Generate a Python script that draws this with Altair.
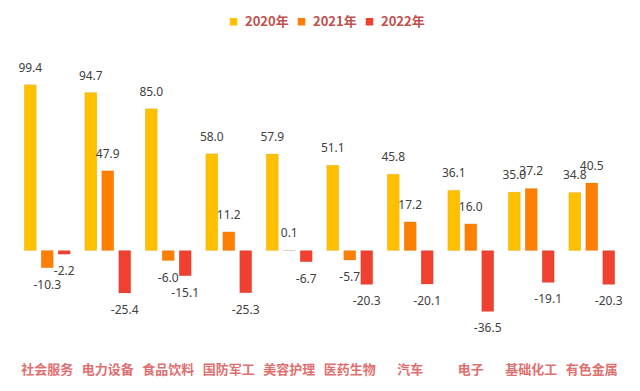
import altair as alt
import pandas as pd

categories = ["社会服务", "电力设备", "食品饮料", "国防军工", "美容护理",
              "医药生物", "汽车", "电子", "基础化工", "有色金属"]
series = ["2020年", "2021年", "2022年"]
v2020 = [99.4, 94.7, 85.0, 58.0, 57.9, 51.1, 45.8, 36.1, 35.0, 34.8]
v2021 = [-10.3, 47.9, -6.0, 11.2, 0.1, -5.7, 17.2, 16.0, 37.2, 40.5]
v2022 = [-2.2, -25.4, -15.1, -25.3, -6.7, -20.3, -20.1, -36.5, -19.1, -20.3]
colors = ["#FFC000", "#FF8000", "#F04030"]

rows = []
for i, c in enumerate(categories):
    for s, vals in zip(series, [v2020, v2021, v2022]):
        rows.append({"cat": c, "series": s, "value": vals[i],
                     "label": f"{vals[i]:.1f}"})
df = pd.DataFrame(rows)

x = alt.X("cat:N", sort=categories, title=None,
          scale=alt.Scale(paddingInner=0.24, paddingOuter=0.12),
          axis=alt.Axis(labelAngle=0, ticks=False, domain=False, labelPadding=29,
                        labelFont="Noto Sans CJK SC", labelFontSize=13,
                        labelFontWeight="bold", labelColor="#E07070"))
xo = alt.XOffset("series:N", sort=series,
                 scale=alt.Scale(paddingInner=0.29, paddingOuter=0))
y = alt.Y("value:Q", title=None, scale=alt.Scale(domain=[-50, 110], nice=False),
          axis=None)

base = alt.Chart(df)

bars = base.mark_bar(stroke="#00000022", strokeWidth=0.5).encode(
    x=x, xOffset=xo, y=y, y2=alt.datum(0),
    color=alt.Color("series:N", sort=series,
                    scale=alt.Scale(domain=series, range=colors),
                    legend=alt.Legend(title=None, orient="none", direction="horizontal",
                                      legendX=210, legendY=-52, symbolType="square",
                                      symbolSize=56, labelFontSize=13, labelOffset=5,
                                      labelFontWeight="bold", labelColor="#C0504D",
                                      labelFont="Noto Sans CJK SC", columnPadding=6,
                                      symbolStrokeWidth=0)),
)

txt_style = dict(fontSize=12, color="#404040", font="Noto Sans", baseline="middle")
pos = base.transform_filter("datum.value >= 0").mark_text(dy=-17, **txt_style).encode(
    x=x, xOffset=xo, y=y, text="label:N")
neg = base.transform_filter("datum.value < 0").mark_text(dy=17, **txt_style).encode(
    x=x, xOffset=xo, y=y, text="label:N")

chart = alt.layer(bars, pos, neg).properties(
    width=605, height=267,
    autosize=alt.AutoSizeParams(type="none"),
    padding={"left": 9, "top": 59, "right": 10, "bottom": 49},
    background="white",
).configure_view(stroke=None)

chart.save("out.html", embed_options={"renderer": "svg", "actions": False})
